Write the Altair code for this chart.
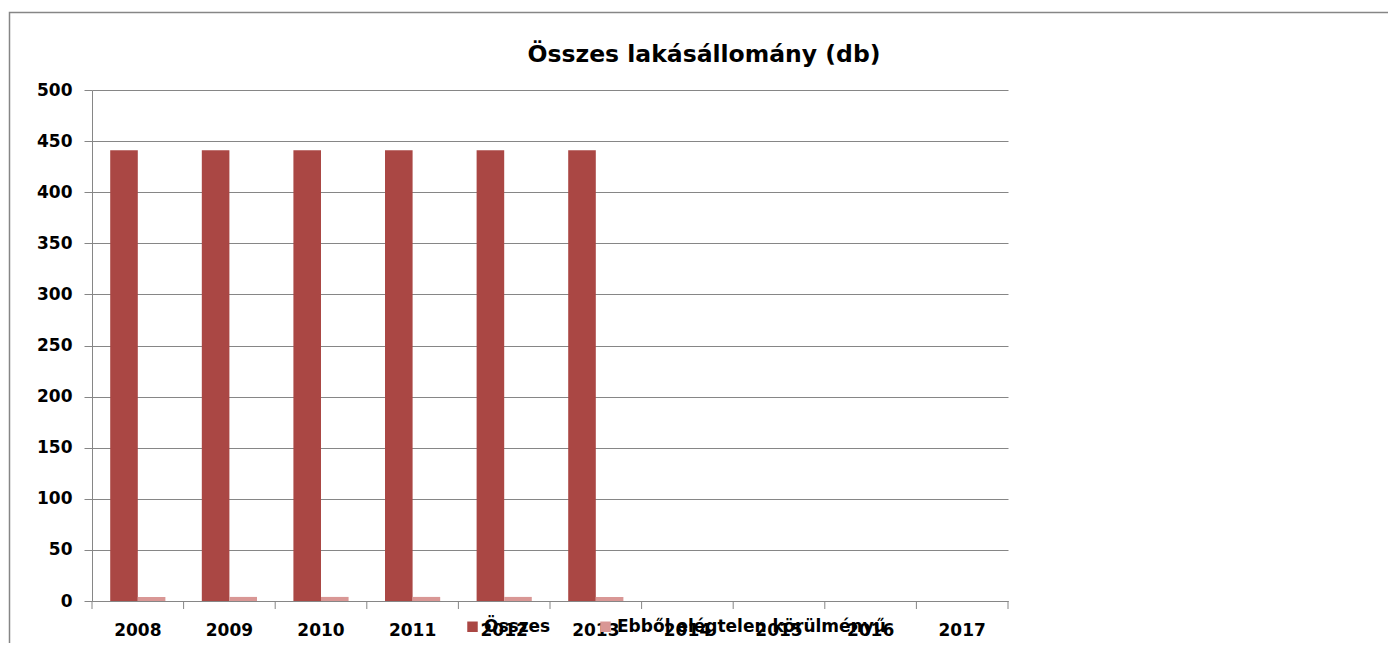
import altair as alt
import pandas as pd

years = ["2008", "2009", "2010", "2011", "2012", "2013", "2014", "2015", "2016", "2017"]
series = ["Összes", "Ebből elégtelen körülményű"]
osszes = [441, 441, 441, 441, 441, 441, None, None, None, None]
ebbol = [4, 4, 4, 4, 4, 4, None, None, None, None]
y_ticks = [0, 50, 100, 150, 200, 250, 300, 350, 400, 450, 500]
title_text = "Összes lakásállomány (db)"
colors = ["#AA4744", "#D99795"]

rows = []
for i, yr in enumerate(years):
    rows.append({"year": yr, "series": series[0], "value": osszes[i]})
    rows.append({"year": yr, "series": series[1], "value": ebbol[i]})
df = pd.DataFrame(rows)
ydf = pd.DataFrame({"year": years})
lastdf = pd.DataFrame({"year": [years[-1]]})
one = pd.DataFrame({"k": [0]})

FONT = "DejaVu Sans"
GRAY = "#868686"
W, H = 916, 511

xscale = alt.Scale(domain=years, paddingInner=0, paddingOuter=0)
xaxis = alt.Axis(title=None, ticks=False, grid=False, labelAngle=0, labelPadding=21,
                 labelFont=FONT, labelFontSize=17, labelFontWeight="bold",
                 labelColor="#000000", domainColor=GRAY)

bars = alt.Chart(df).mark_bar().encode(
    x=alt.X("year:N", scale=xscale, sort=years, axis=xaxis),
    xOffset=alt.XOffset("series:N", sort=series,
                        scale=alt.Scale(domain=series, paddingOuter=0.66, paddingInner=0)),
    y=alt.Y("value:Q", scale=alt.Scale(domain=[0, 500]),
            axis=alt.Axis(title=None, values=y_ticks, tickSize=8, labelPadding=12,
                          labelFont=FONT, labelFontSize=17, labelFontWeight="bold",
                          labelColor="#000000", grid=True, gridColor=GRAY,
                          domainColor=GRAY, tickColor=GRAY)),
    color=alt.Color("series:N", sort=series,
                    scale=alt.Scale(domain=series, range=colors),
                    legend=alt.Legend(orient="none", legendX=372, legendY=528,
                                      direction="horizontal", title=None,
                                      symbolType="square", symbolSize=110,
                                      symbolStrokeWidth=0, labelOffset=3,
                                      labelFont=FONT, labelFontSize=17,
                                      labelFontWeight="bold", labelColor="#000000",
                                      labelLimit=600, columnPadding=46, padding=0)),
)

xticks = alt.Chart(ydf).mark_rule(color=GRAY, strokeWidth=1).encode(
    x=alt.X("year:N", scale=xscale, sort=years, bandPosition=0, axis=xaxis),
    y=alt.value(H),
    y2=alt.value(H + 8),
)

last_tick = alt.Chart(lastdf).mark_rule(color=GRAY, strokeWidth=1).encode(
    x=alt.X("year:N", scale=xscale, sort=years, bandPosition=1, axis=xaxis),
    y=alt.value(H),
    y2=alt.value(H + 8),
)

title = alt.Chart(one).mark_text(
    font=FONT, fontSize=23.5, fontWeight="bold", align="center", baseline="middle",
    color="#000000"
).encode(x=alt.value(612), y=alt.value(-35), text=alt.value(title_text))

border = alt.Chart(one).mark_rect(fill=None, stroke=GRAY, strokeWidth=1.5).encode(
    x=alt.value(-82.5), y=alt.value(-77.5), x2=alt.value(1400), y2=alt.value(700)
)

chart = alt.layer(border, bars, xticks, last_tick, title).properties(
    width=W, height=H,
    autosize=alt.AutoSizeParams(type="none"),
    padding={"left": 84, "top": 82, "right": 380, "bottom": 42},
    background="#ffffff",
).configure_view(strokeWidth=0, stroke="transparent")

chart.save("out.html", embed_options={"renderer": "svg", "actions": False})
